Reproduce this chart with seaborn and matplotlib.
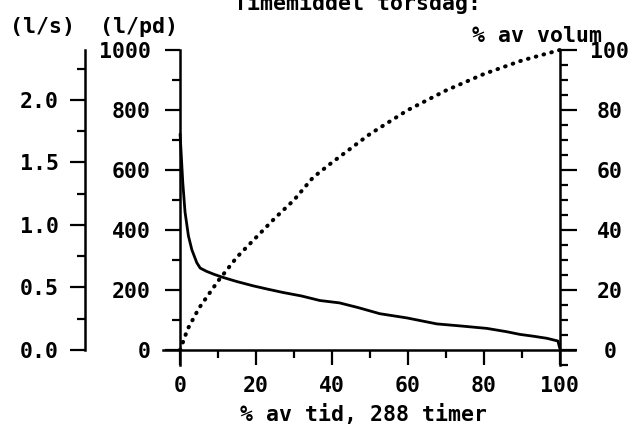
import numpy as np
import seaborn as sns
import matplotlib.pyplot as plt
from matplotlib.ticker import MultipleLocator

# duration curve, litres per person-day vs % of time
tid_pct = [0, 0.7, 1.3, 2.2, 3.1, 4.4, 5.3, 7, 9, 11.3, 15, 19.2, 23, 27, 32, 36.8,
           42, 47, 52.6, 59.7, 67.6, 74, 80.8, 86, 89.5, 93, 96.6, 99.5, 100]
forbruk_lpd = [720, 560, 460, 380, 334, 291, 273, 262, 252, 242, 228, 214, 203, 192,
               180, 165, 157, 141, 121, 107, 87, 80, 72, 61, 52, 46, 39, 30, 5]

# cumulative share of volume
vol_tid = [0, 2, 5, 10, 15, 20, 25, 30, 35, 40, 50, 60, 70, 80, 90, 100]
vol_pct = [0, 7, 14, 23, 31, 37.5, 44, 50, 57.5, 62.5, 72, 80, 86.5, 92, 96.5, 100]

x_ticks = [0, 20, 40, 60, 80, 100]
lpd_ticks = [0, 200, 400, 600, 800, 1000]
ls_ticks = [0.0, 0.5, 1.0, 1.5, 2.0]
vol_ticks = [0, 20, 40, 60, 80, 100]

LPD_PER_LS = 416.7

sns.set_style('white')
plt.rcParams['font.family'] = ['DejaVu Sans Mono']
plt.rcParams['font.weight'] = 'bold'
plt.rcParams['font.size'] = 15.5
for k in ['text.color', 'axes.labelcolor', 'xtick.color', 'ytick.color']:
    plt.rcParams[k] = 'black'

fig = plt.figure(figsize=(6.31, 4.32), dpi=100)
W, H = 631, 432
ax = fig.add_axes([163 / W, (H - 365) / H, 412 / W, 315 / H])
ax.patch.set_alpha(0)

tick_kw = dict(direction='out', width=1.6, color='black', labelcolor='black')

sns.lineplot(x=tid_pct, y=forbruk_lpd, ax=ax, color='black', linewidth=2.0,
             clip_on=False, zorder=5)
ax.set_xlim(-4.5, 104)
ax.set_ylim(-50, 1000)

for s in ['top', 'right']:
    ax.spines[s].set_visible(False)
ax.spines['bottom'].set_position(('data', 0))
ax.spines['left'].set_position(('data', 0))
ax.spines['bottom'].set_bounds(-4.5, 104)
ax.spines['left'].set_bounds(-50, 1000)
for s in ['bottom', 'left']:
    ax.spines[s].set_linewidth(1.8)
    ax.spines[s].set_color('black')

ax.set_xticks(x_ticks)
ax.xaxis.set_minor_locator(MultipleLocator(10))
ax.set_yticks(lpd_ticks)
ax.yaxis.set_minor_locator(MultipleLocator(100))
ax.tick_params(axis='x', which='major', length=11, pad=8, **tick_kw)
ax.tick_params(axis='x', which='minor', length=6, **tick_kw)
ax.tick_params(axis='y', which='major', length=11, pad=10, **tick_kw)
ax.tick_params(axis='y', which='minor', length=6, **tick_kw)
ax.tick_params(bottom=True, left=True, which='both')
ax.set_xlabel('')
ax.set_ylabel('')

# right axis: % of volume
ax3 = ax.twinx()
ax3.patch.set_alpha(0)
sns.lineplot(x=vol_tid, y=vol_pct, ax=ax3, color='black', linewidth=2.9,
             linestyle=(0, (0.15, 1.85)), dash_capstyle='round', clip_on=False)
ax3.set_ylim(-5, 100)
for s in ['top', 'left', 'bottom']:
    ax3.spines[s].set_visible(False)
ax3.spines['right'].set_position(('axes', 104.5 / 108.5))
ax3.spines['right'].set_bounds(-5, 100)
ax3.spines['right'].set_linewidth(1.8)
ax3.spines['right'].set_color('black')
ax3.set_yticks(vol_ticks)
ax3.yaxis.set_minor_locator(MultipleLocator(5))
ax3.tick_params(axis='y', which='major', length=12, pad=24, right=True, **tick_kw)
ax3.tick_params(axis='y', which='minor', length=6, right=True, **tick_kw)
for lab in ax3.get_yticklabels():
    lab.set_horizontalalignment('center')
ax3.set_ylabel('')

# far left axis: litres per second
ax2 = ax.twinx()
ax2.patch.set_alpha(0)
ax2.set_ylim(-50 / LPD_PER_LS, 1000 / LPD_PER_LS)
for s in ['top', 'right', 'bottom']:
    ax2.spines[s].set_visible(False)
ax2.spines['left'].set_visible(True)
ax2.spines['left'].set_position(('axes', (85 - 163) / 412))
ax2.spines['left'].set_bounds(0, 2.4)
ax2.spines['left'].set_linewidth(1.8)
ax2.spines['left'].set_color('black')
ax2.yaxis.set_ticks_position('left')
ax2.yaxis.set_label_position('left')
ax2.set_yticks(ls_ticks)
ax2.set_yticklabels([f'{v:.1f}' for v in ls_ticks])
ax2.yaxis.set_minor_locator(MultipleLocator(0.25))
ax2.tick_params(axis='y', which='major', length=11, pad=8, **tick_kw)
ax2.tick_params(axis='y', which='minor', length=6, **tick_kw)

fig.text(42 / W, 1 - 27 / H, '(l/s)', ha='center', va='center')
fig.text(139 / W, 1 - 27 / H, '(l/pd)', ha='center', va='center')
fig.text(537 / W, 1 - 36 / H, '% av volum', ha='center', va='center')
fig.text(364 / W, 1 - 414 / H, '% av tid, 288 timer', ha='center', va='center')
# title sits partly above the top edge, as in the scanned original
fig.text(358 / W, 1 - 10 / H, 'Timemiddel torsdag:', ha='center', va='baseline')

fig.savefig('out.png', dpi=100)
